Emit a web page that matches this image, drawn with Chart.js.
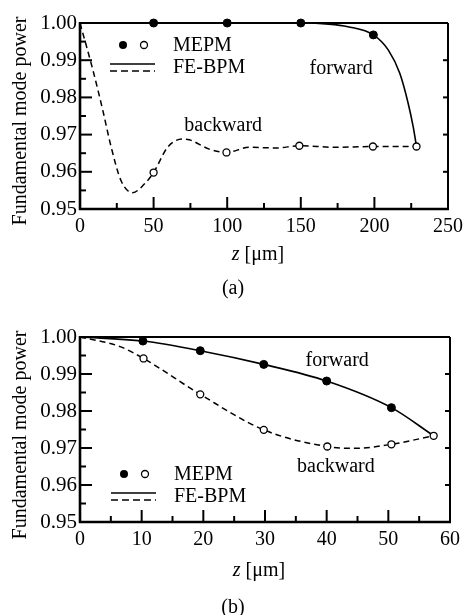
<!DOCTYPE html>
<html lang="en">
<head>
<meta charset="UTF-8" />
<title>Fundamental mode power</title>
<style>
  * { box-sizing: border-box; margin: 0; padding: 0; }
  html, body { width: 469px; height: 615px; background: #fff; overflow: hidden; }
  .panel { position: absolute; left: 0; width: 469px; }
  #panelA { top: 0; height: 300px; }
  #panelB { top: 300px; height: 315px; }
</style>
</head>
<body>
<div class="panel" id="panelA"><canvas id="chartA" width="469" height="300"></canvas></div>
<div class="panel" id="panelB"><canvas id="chartB" width="469" height="315"></canvas></div>
<script src="https://cdn.jsdelivr.net/npm/chart.js"></script>
<script>
// ---- (a) FE-BPM curves, z in um ----
const zA_fwdLine = [0, 50, 100, 150, 169, 182, 199.3, 209.5, 217.3, 223, 226.4, 228.6];
const pA_fwdLine = [1.0, 1.0, 1.0, 1.0, 0.9997, 0.999, 0.9968, 0.9927, 0.9864, 0.9783, 0.972, 0.9668];
const zA_bwdLine = [0, 8.8, 15.5, 21.2, 27.9, 35.8, 43.7, 50, 59.5, 69.6, 74.3, 87.8, 99.5, 115, 133, 149, 173, 199, 228.6];
const pA_bwdLine = [1.0, 0.9873, 0.9765, 0.9666, 0.9576, 0.9544, 0.9567, 0.9598, 0.9666, 0.9688, 0.9686, 0.9661, 0.9652, 0.9666, 0.9664, 0.967, 0.9666, 0.9668, 0.9668];
// ---- (a) MEPM points ----
const zA_fwdPts = [50, 100, 150, 199.3];
const pA_fwdPts = [1.0, 1.0, 1.0, 0.9968];
const zA_bwdPts = [50, 99.5, 149, 199, 228.6];
const pA_bwdPts = [0.9598, 0.9652, 0.967, 0.9668, 0.9668];

// ---- (b) FE-BPM curves ----
const zB_fwdLine = [0, 10.2, 19.5, 29.8, 40, 50.5, 57.35];
const pB_fwdLine = [1.0, 0.9989, 0.9963, 0.9926, 0.9881, 0.9809, 0.9733];
const zB_bwdLine = [0, 6.5, 10.3, 19.5, 29.8, 40.1, 44.5, 50.5, 57.35];
const pB_bwdLine = [1.0, 0.9974, 0.9942, 0.9845, 0.9749, 0.9704, 0.9699, 0.971, 0.9733];
// ---- (b) MEPM points ----
const zB_fwdPts = [10.2, 19.5, 29.8, 40, 50.5];
const pB_fwdPts = [0.9989, 0.9963, 0.9926, 0.9881, 0.9809];
const zB_bwdPts = [10.3, 19.5, 29.8, 40.1, 50.5, 57.35];
const pB_bwdPts = [0.9942, 0.9845, 0.9749, 0.9704, 0.971, 0.9733];

// axes
const yMin = 0.95, yMax = 1.0, yStep = 0.01, yMinor = 0.005;
const xA_max = 250, xA_step = 50, xA_minor = 25;
const xB_max = 60, xB_step = 10, xB_minor = 5;

const FONT = "'Liberation Serif', 'Times New Roman', serif";

function pts(zs, ps) {
  return zs.map((z, i) => ({ x: z, y: ps[i] }));
}

function hline(ctx, x1, y1, x2, y2) {
  ctx.beginPath();
  ctx.moveTo(x1, y1);
  ctx.lineTo(x2, y2);
  ctx.stroke();
}

// frame, inward ticks, legend, labels and captions
const decor = {
  id: "decor",
  afterDraw(chart, args, o) {
    const ctx = chart.ctx;
    const { left, right, top, bottom } = chart.chartArea;
    const xs = chart.scales.x, ys = chart.scales.y;
    ctx.save();
    ctx.strokeStyle = "#000";
    ctx.fillStyle = "#000";
    ctx.setLineDash([]);

    // frame
    ctx.lineWidth = 2;
    hline(ctx, left, top, right, top);
    hline(ctx, right, top, right, bottom);
    ctx.lineWidth = 2.6;
    hline(ctx, left, top - 1, left, bottom + 1);
    hline(ctx, left - 1, bottom, right + 1, bottom);

    // ticks (inward)
    ctx.lineWidth = 2;
    const nx = Math.round((xs.max - xs.min) / o.minorX);
    for (let i = 1; i < nx; i++) {
      const px = xs.getPixelForValue(xs.min + i * o.minorX);
      hline(ctx, px, bottom, px, bottom - (i % 2 === 0 ? 12 : 6));
    }
    const ny = Math.round((ys.max - ys.min) / o.minorY);
    for (let i = 1; i < ny; i++) {
      const py = ys.getPixelForValue(ys.min + i * o.minorY);
      hline(ctx, left, py, left + (i % 2 === 0 ? 12 : 6), py);
      if (i % 2 === 0) hline(ctx, right, py, right - 5, py);
    }

    ctx.textBaseline = "middle";
    ctx.font = "20px " + FONT;

    // legend
    const lx = o.legend.x, ly = o.legend.y;
    ctx.beginPath();
    ctx.arc(lx, ly, 4, 0, Math.PI * 2);
    ctx.fill();
    ctx.lineWidth = 1.3;
    ctx.beginPath();
    ctx.arc(lx + 21, ly, 3.5, 0, Math.PI * 2);
    ctx.stroke();
    ctx.textAlign = "left";
    ctx.fillText("MEPM", lx + 50, ly + 1);
    ctx.lineWidth = 1.6;
    hline(ctx, lx - 13, ly + 19, lx + 32, ly + 19);
    ctx.setLineDash([7, 4]);
    hline(ctx, lx - 13, ly + 26, lx + 32, ly + 26);
    ctx.setLineDash([]);
    ctx.fillText("FE-BPM", lx + 50, ly + 23);

    // curve labels
    ctx.textAlign = "center";
    o.labels.forEach(l => {
      ctx.fillText(l.text, xs.getPixelForValue(l.z), ys.getPixelForValue(l.p));
    });

    // x title: italic z + [μm]
    const tx = o.xTitle.x, ty = o.xTitle.y;
    ctx.textAlign = "left";
    ctx.font = "italic 20px " + FONT;
    const wz = ctx.measureText("z").width;
    ctx.font = "20px " + FONT;
    const rest = " [\u03bcm]";
    const wr = ctx.measureText(rest).width;
    const x0 = tx - (wz + wr) / 2;
    ctx.font = "italic 20px " + FONT;
    ctx.fillText("z", x0, ty);
    ctx.font = "20px " + FONT;
    ctx.fillText(rest, x0 + wz, ty);

    // caption
    ctx.textAlign = "center";
    ctx.fillText(o.caption.text, o.caption.x, o.caption.y);

    // y title
    ctx.translate(o.yTitle.x, o.yTitle.y);
    ctx.rotate(-Math.PI / 2);
    ctx.fillText("Fundamental mode power", 0, 0);
    ctx.restore();
  }
};

function makeChart(id, d, xMax, xStep, xMinor, plotTop, axisH, decorOpts) {
  return new Chart(document.getElementById(id), {
    type: "scatter",
    data: {
      datasets: [
        {
          data: pts(d.zFwdPts, d.pFwdPts),
          showLine: false,
          pointRadius: 4,
          pointBackgroundColor: "#000",
          pointBorderColor: "#000",
          pointBorderWidth: 1,
          clip: false,
          order: 1
        },
        {
          data: pts(d.zBwdPts, d.pBwdPts),
          showLine: false,
          pointRadius: 3.5,
          pointBackgroundColor: "#fff",
          pointBorderColor: "#000",
          pointBorderWidth: 1.3,
          clip: false,
          order: 1
        },
        {
          data: pts(d.zFwdLine, d.pFwdLine),
          showLine: true,
          borderColor: "#000",
          borderWidth: 1.6,
          pointRadius: 0,
          cubicInterpolationMode: "monotone",
          clip: false,
          order: 2
        },
        {
          data: pts(d.zBwdLine, d.pBwdLine),
          showLine: true,
          borderColor: "#000",
          borderWidth: 1.5,
          borderDash: [6, 4],
          pointRadius: 0,
          cubicInterpolationMode: "monotone",
          clip: false,
          order: 2
        }
      ]
    },
    options: {
      responsive: false,
      animation: false,
      devicePixelRatio: 1,
      layout: { padding: { left: 0, right: 19, top: plotTop, bottom: 0 } },
      plugins: {
        legend: { display: false },
        tooltip: { enabled: false },
        decor: decorOpts
      },
      scales: {
        x: {
          type: "linear",
          min: 0,
          max: xMax,
          grid: { display: false, drawTicks: false },
          border: { display: false },
          ticks: {
            stepSize: xStep,
            color: "#000",
            padding: 6,
            maxRotation: 0,
            font: { family: FONT, size: 20 }
          },
          afterFit(s) { s.height = axisH; }
        },
        y: {
          type: "linear",
          min: yMin,
          max: yMax,
          grid: { display: false, drawTicks: false },
          border: { display: false },
          ticks: {
            stepSize: yStep,
            color: "#000",
            padding: 3,
            font: { family: FONT, size: 21 },
            callback: v => v.toFixed(2)
          },
          afterFit(s) { s.width = 80; }
        }
      }
    },
    plugins: [decor]
  });
}

makeChart("chartA", {
  zFwdLine: zA_fwdLine, pFwdLine: pA_fwdLine,
  zBwdLine: zA_bwdLine, pBwdLine: pA_bwdLine,
  zFwdPts: zA_fwdPts, pFwdPts: pA_fwdPts,
  zBwdPts: zA_bwdPts, pBwdPts: pA_bwdPts
}, xA_max, xA_step, xA_minor, 23, 91, {
  minorX: xA_minor, minorY: yMinor,
  legend: { x: 123, y: 45 },
  labels: [
    { text: "forward", z: 177.4, p: 0.98757 },
    { text: "backward", z: 97.3, p: 0.97243 }
  ],
  xTitle: { x: 258, y: 255 },
  caption: { text: "(a)", x: 233, y: 289 },
  yTitle: { x: 21, y: 121 }
});

makeChart("chartB", {
  zFwdLine: zB_fwdLine, pFwdLine: pB_fwdLine,
  zBwdLine: zB_bwdLine, pBwdLine: pB_bwdLine,
  zFwdPts: zB_fwdPts, pFwdPts: pB_fwdPts,
  zBwdPts: zB_bwdPts, pBwdPts: pB_bwdPts
}, xB_max, xB_step, xB_minor, 37, 93, {
  minorX: xB_minor, minorY: yMinor,
  legend: { x: 124, y: 174 },
  labels: [
    { text: "forward", z: 41.7, p: 0.99351 },
    { text: "backward", z: 41.5, p: 0.96486 }
  ],
  xTitle: { x: 259, y: 271 },
  caption: { text: "(b)", x: 233, y: 308 },
  yTitle: { x: 21, y: 135 }
});
</script>
</body>
</html>
